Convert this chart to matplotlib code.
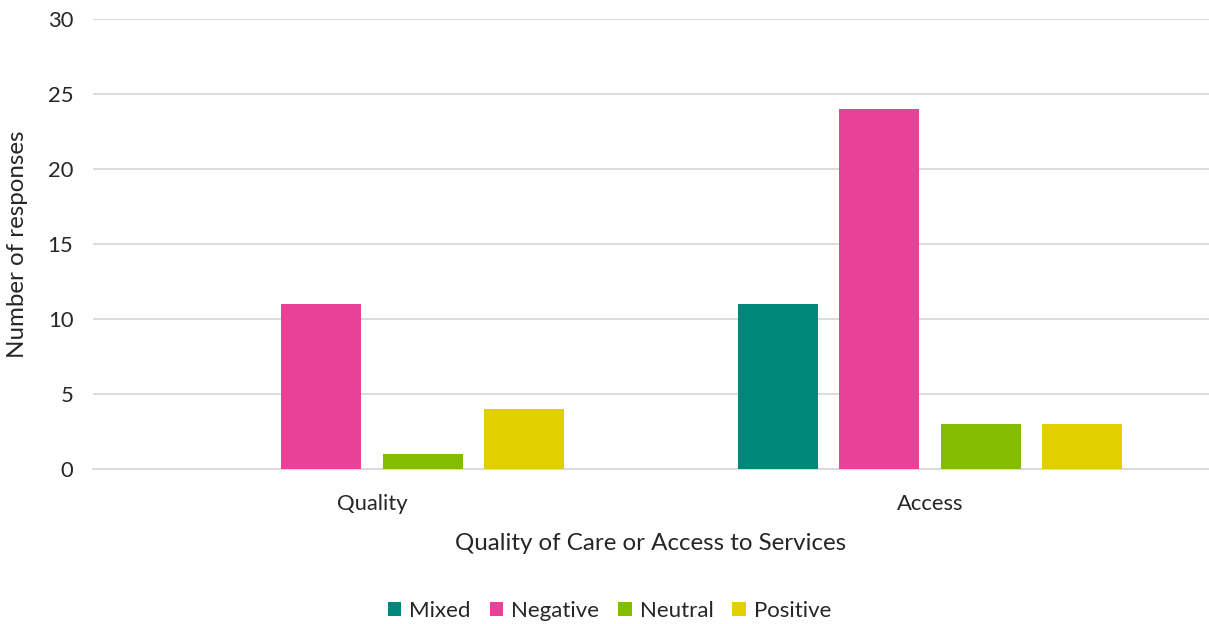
import matplotlib
matplotlib.use('Agg')
import matplotlib.pyplot as plt
import numpy as np

plt.rcParams['font.family'] = ['Lato', 'DejaVu Sans']

categories = ['Quality', 'Access']
series = ['Mixed', 'Negative', 'Neutral', 'Positive']
mixed = [0, 11]
negative = [11, 24]
neutral = [1, 3]
positive = [4, 3]
colors = ['#00877A', '#E84197', '#84BD00', '#E2CF00']

values = [mixed, negative, neutral, positive]

fig = plt.figure(figsize=(12.09, 6.24), dpi=100)
ax = fig.add_axes([0.0768, 0.2484, 0.9232, 0.7212])

x = np.arange(len(categories))
width = 0.143
step = 0.182
for i, (name, vals) in enumerate(zip(series, values)):
    offs = (i - 1.5) * step
    ax.bar(x + offs, vals, width, color=colors[i], label=name, zorder=3)

ax.set_xlim(-0.5, 1.5)
ax.set_ylim(0, 30)
ax.set_yticks(range(0, 31, 5))
ax.set_xticks(x)
ax.set_xticklabels(categories)
ax.grid(axis='y', color='#d9d9d9', linewidth=1.3, zorder=0)
for s in ax.spines.values():
    s.set_visible(False)
ax.spines['bottom'].set_visible(True)
ax.spines['bottom'].set_color('#d9d9d9')
ax.spines['bottom'].set_linewidth(1.3)
ax.tick_params(axis='both', length=0, labelsize=15.8, colors='#262626', pad=14)
ax.tick_params(axis='x', pad=18)
ax.set_ylabel('Number of responses', fontsize=17.4, color='#262626', labelpad=14)
ax.set_xlabel('Quality of Care or Access to Services', fontsize=17.4, color='#262626', labelpad=14)

fig.legend(loc='lower center', bbox_to_anchor=(0.504, -0.027), ncol=4, frameon=False,
           fontsize=16, handlelength=0.62, handleheight=0.62, handletextpad=0.35,
           columnspacing=0.85, labelcolor='#262626')

fig.savefig('out.png', dpi=100)
